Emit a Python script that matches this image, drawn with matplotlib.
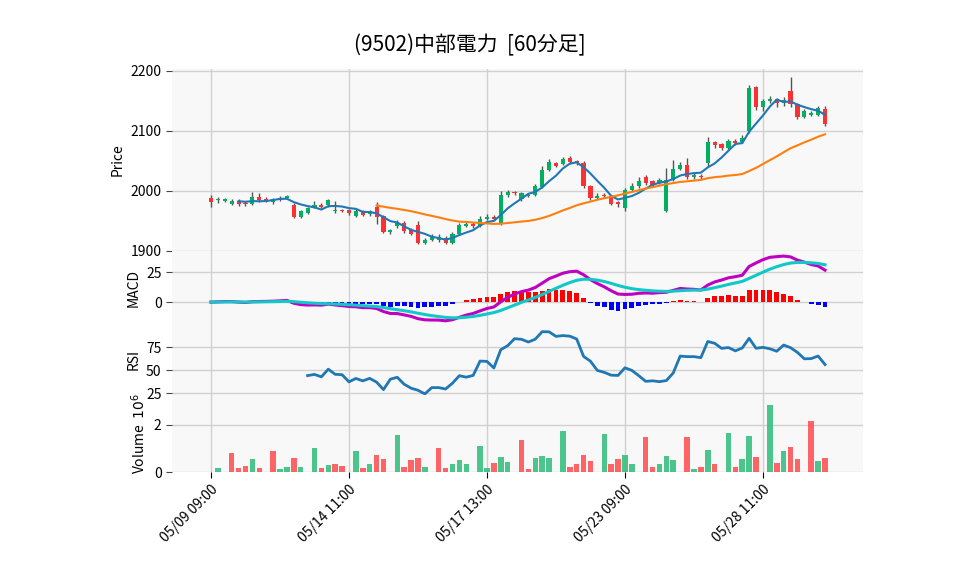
import numpy as np
import pandas as pd
import matplotlib
matplotlib.use("Agg")
import matplotlib.pyplot as plt

plt.rcParams["font.family"] = "Noto Sans CJK JP"

x_labels = ["05/09 09:00", "05/14 11:00", "05/17 13:00", "05/23 09:00", "05/28 11:00"]
opens = [1988,1985,1984,1979,1983,1980,1978,1990,1986,1981,1985,1988,1977,1957,1964,1973,1977,1976,1966,1968,
         1968,1959,1966,1961,1973,1958,1931,1941,1946,1935,1944,1914,1918,1919,1921,1914,1929,1942,1945,1942,
         1954,1957,1946,1993,1998,1986,1992,1994,2007,2035,2046,2045,2054,2050,2046,2008,1989,1994,1991,1981,
         1971,2002,2008,2023,2017,2014,1967,2019,2037,2043,2023,2025,2046,2081,2078,2071,2083,2081,2099,2173,
         2140,2149,2153,2146,2166,2144,2123,2126,2127,2137]
closes = [1982,1985,1986,1983,1978,1978,1990,1985,1985,1986,1988,1991,1957,1966,1972,1977,1973,1985,1968,1967,
          1964,1967,1960,1966,1957,1931,1935,1948,1934,1928,1914,1919,1924,1923,1914,1929,1943,1945,1942,1954,
          1957,1953,1993,1998,1996,1996,1993,2009,2035,2048,2042,2053,2049,2046,2008,1989,1992,1991,1979,1978,
          2002,2008,2017,2014,2010,2019,2019,2037,2043,2023,2026,2023,2081,2076,2072,2083,2079,2088,2171,2140,
          2150,2153,2146,2152,2144,2123,2133,2129,2138,2111]
highs = [1994,1990,1989,1986,1986,1983,1999,1997,1990,1988,1992,1994,1980,1968,1974,1983,1980,1987,1983,1970,
         1970,1970,1969,1968,1981,1960,1937,1952,1950,1938,1950,1922,1928,1928,1925,1931,1946,1949,1948,1958,
         1962,1960,2000,2002,2000,1999,1996,2012,2042,2053,2049,2057,2058,2052,2050,2010,1996,1996,1993,1984,
         2005,2014,2024,2027,2019,2022,2039,2052,2048,2055,2030,2028,2090,2083,2080,2086,2086,2093,2176,2175,
         2153,2158,2155,2157,2190,2147,2136,2133,2142,2142]
lows = [1974,1980,1981,1976,1975,1975,1976,1982,1982,1979,1983,1986,1955,1955,1962,1971,1971,1974,1963,1965,
        1960,1956,1958,1959,1945,1930,1929,1939,1930,1926,1911,1912,1916,1915,1912,1912,1927,1940,1938,1940,
        1951,1950,1944,1990,1993,1984,1990,1992,2005,2033,2040,2043,2045,2043,2005,1985,1986,1988,1977,1974,
        1966,1998,2005,2010,2008,2012,1965,2017,2035,2020,2020,2020,2040,2072,2068,2069,2076,2079,2097,2135,
        2133,2146,2139,2141,2140,2120,2121,2124,2124,2108]
vol_values = [0.15,
    0.79,0.15,0.24,0.54,0.15, 0.87,0.11,0.20,0.58,0.20, 1.00,0.15,0.28,0.32,0.24,
    0.87,0.15,0.32,0.70,0.54, 1.55,0.20,0.49,0.58,0.20, 1.00,0.15,0.32,0.49,0.32,
    1.08,0.15,0.37,0.62,0.41, 1.34,0.11,0.58,0.66,0.58, 1.72,0.20,0.32,0.70,0.45,
    1.59,0.32,0.54,0.70,0.32, 1.46,0.20,0.32,0.66,0.49, 1.46,0.11,0.20,0.92,0.32,
    1.63,0.20,0.54,1.51,0.62, 2.82,0.37,0.87,1.04,0.54, 2.14,0.45,0.58]
vol_up = [1,
    0,0,0,1,0, 0,1,1,0,1, 1,0,1,0,0, 1,0,1,0,0, 1,0,0,0,1, 0,0,1,1,1,
    1,1,0,1,1, 0,0,1,1,1, 1,0,0,0,0, 1,0,0,1,1, 0,0,1,1,1, 0,1,0,1,0,
    1,0,1,1,0, 1,0,1,0,0, 0,1,0]

o = np.array(opens, float); c = np.array(closes, float)
h = np.array(highs, float); l = np.array(lows, float)
n = len(c); idx = np.arange(n)
s = pd.Series(c)
ma5 = s.rolling(5).mean(); ma25 = s.rolling(25).mean()
macd = s.ewm(span=12, adjust=False).mean() - s.ewm(span=26, adjust=False).mean()
sig = macd.ewm(span=9, adjust=False).mean()
hist = macd - sig
d = s.diff()
gain = d.clip(lower=0).rolling(14).mean(); loss = (-d.clip(upper=0)).rolling(14).mean()
rsi = 100 - 100 / (1 + gain / loss)

# volume slot positions: one isolated then groups of 5 with a gap
vslots = [1]
start = 3
while len(vslots) < len(vol_values):
    for k in range(5):
        if len(vslots) < len(vol_values):
            vslots.append(start + k)
    start += 6

fig = plt.figure(figsize=(9.58, 5.75), dpi=100)
L, R = 172/958, 863/958
def ax_at(top, bot, sharex=None):
    return fig.add_axes([L, 1-bot/575, R-L, (bot-top)/575], sharex=sharex)
ax1 = ax_at(69, 251)
ax2 = ax_at(251, 325, ax1)
ax3 = ax_at(325, 395, ax1)
ax4 = ax_at(395, 472, ax1)
for a in (ax1, ax2, ax3, ax4):
    a.set_facecolor("#f8f8f8")
    a.grid(True, color="#d0d0d0", lw=1)
    a.set_axisbelow(True)
    for sp in a.spines.values():
        sp.set_visible(False)
    a.tick_params(axis="y", length=4, labelsize=10, color="#444")
    a.tick_params(axis="x", length=0, labelbottom=False)

up_c, dn_c = "#00b060", "#fe3032"
cols = [up_c if c[i] >= o[i] else dn_c for i in range(n)]
ax1.vlines(idx, l, h, color="#555555", lw=1, zorder=2)
ax1.bar(idx, np.maximum(np.abs(c-o), 0.8), bottom=np.minimum(o, c), width=0.6, color=cols, zorder=3)
ax1.plot(idx, ma5, color="#1f77b4", lw=1.5, zorder=4)
ax1.plot(idx, ma25, color="#ff7f0e", lw=1.5, zorder=4)
ax1.set_ylim(1900, 2203)
ax1.set_yticks([1900, 2000, 2100, 2200])
ax1.set_ylabel("Price", fontsize=10)

hc = ["#ff0000" if v >= 0 else "#0000ff" for v in hist]
ax2.bar(idx, hist, width=0.7, color=hc, zorder=2)
ax2.plot(idx, macd, color="#c000c0", lw=2.2, zorder=3)
ax2.plot(idx, sig, color="#10c8c8", lw=2.2, zorder=3)
ax2.set_ylim(-19, 42.5)
ax2.set_yticks([0, 25])
ax2.set_ylabel("MACD", fontsize=10)

ax3.plot(idx, rsi, color="#1f77b4", lw=2)
ax3.set_ylim(23, 99)
ax3.set_yticks([25, 50, 75])
ax3.set_ylabel("RSI", fontsize=10)

vcols = ["#2ebd7a" if u else "#fe4a4b" for u in vol_up]
ax4.bar(vslots, vol_values, width=0.8, color=vcols, alpha=0.85, zorder=2)
ax4.set_ylim(0, 3.25)
ax4.set_yticks([0, 2])
ax4.set_ylabel("Volume  $10^6$", fontsize=10)
ax4.tick_params(axis="x", length=4, labelbottom=True, labelsize=10)
ax4.set_xticks([0, 20, 40, 60, 80])
ax4.set_xticklabels(x_labels, rotation=45, ha="right", rotation_mode="anchor")
ax1.set_xlim(-5.65, 94.5)

fig.text(470/958, 1-45/575, "(9502)中部電力  [60分足]", ha="center", va="center", fontsize=15)
fig.savefig("out.png", dpi=100)
